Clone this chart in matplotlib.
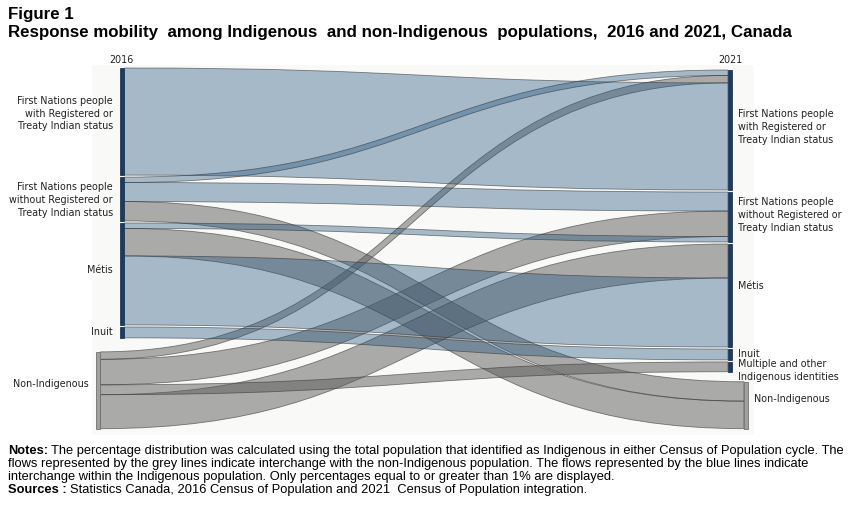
import numpy as np
import matplotlib
matplotlib.use("Agg")
import matplotlib.pyplot as plt
from matplotlib.path import Path
from matplotlib.patches import PathPatch, Rectangle

# DONNÉES (pourcentages)

noeuds_2016 = ["First Nations people\nwith Registered or\nTreaty Indian status",
               "First Nations people\nwithout Registered or\nTreaty Indian status",
               "Métis", "Inuit", "Non-Indigenous"]
noeuds_2021 = ["First Nations people\nwith Registered or\nTreaty Indian status",
               "First Nations people\nwithout Registered or\nTreaty Indian status",
               "Métis", "Inuit", "Multiple and other\nIndigenous identities",
               "Non-Indigenous"]

# source, cible, valeur (%)
flux_source = [0, 1, 4, 1, 4, 2, 1, 2, 2, 4, 3, 4]
flux_cible  = [0, 0, 0, 1, 1, 1, 5, 5, 2, 2, 3, 4]
flux_valeur = [31.5, 1.6, 2.2, 5.6, 7.5, 1.6, 5.7, 8.1, 20.3, 10.0, 3.2, 2.9]

# ordre d'empilement à la source et à la cible
rang_source = [0, 0, 0, 1, 1, 0, 2, 1, 2, 3, 0, 2]
rang_cible  = [2, 0, 1, 0, 1, 2, 0, 1, 1, 0, 0, 0]

# MISE EN PAGE (pixels)

LARGEUR, HAUTEUR = 854, 505
ECHELLE = 3.4           # pixels par %
ESPACE = 2.0
X_GAUCHE, X_GAUCHE_NON = 120, 96
X_DROITE, X_DROITE_NON = 728, 744
L_NOEUD = 4.5
HAUT_GAUCHE, HAUT_DROITE = 68, 70
SAUT_GAUCHE, SAUT_DROITE = 14, 10

# décalage vertical des étiquettes par rapport au centre du noeud
DECALAGE_G = [-8, 1, -4, 0, -6]
DECALAGE_D = [-3, -2, -10, 0, -8, -6]

BLEU = (0.16, 0.35, 0.51)
GRIS = (0.36, 0.36, 0.36)


def positions(nb, cles, haut, saut):
    tailles = np.zeros(nb)
    for k, v in zip(cles, flux_valeur):
        tailles[k] += v * ECHELLE
    y = haut
    tops = []
    for i in range(nb):
        if i == nb - 1:
            y += saut - ESPACE
        tops.append(y)
        y += tailles[i] + ESPACE
    return np.array(tops), tailles


tops_g, tailles_g = positions(len(noeuds_2016), flux_source, HAUT_GAUCHE, SAUT_GAUCHE)
tops_d, tailles_d = positions(len(noeuds_2021), flux_cible, HAUT_DROITE, SAUT_DROITE)


def empiler(cles, rangs, tops):
    debut = np.zeros(len(flux_valeur))
    for n in set(cles):
        idx = [i for i in range(len(cles)) if cles[i] == n]
        idx.sort(key=lambda i: rangs[i])
        y = tops[n]
        for i in idx:
            debut[i] = y
            y += flux_valeur[i] * ECHELLE
    return debut


y0 = empiler(flux_source, rang_source, tops_g)
y1 = empiler(flux_cible, rang_cible, tops_d)

fig = plt.figure(figsize=(8.54, 5.05), dpi=100)
ax = fig.add_axes([0, 0, 1, 1])
ax.set_xlim(0, LARGEUR)
ax.set_ylim(HAUTEUR, 0)
ax.axis("off")
fig.canvas.draw()
rend = fig.canvas.get_renderer()

# FOND LÉGER DE LA ZONE DU GRAPHIQUE
ax.add_patch(Rectangle((92, 65), 662, 370, facecolor="#f9f9f8", edgecolor="none", zorder=0))

# LIENS (gris d'abord, bleus ensuite)
ordre = sorted(range(len(flux_valeur)),
               key=lambda i: 0 if (flux_source[i] == 4 or flux_cible[i] == 5) else 1)
for i in ordre:
    s, c = flux_source[i], flux_cible[i]
    non = (s == 4 or c == 5)
    xa = (X_GAUCHE_NON if s == 4 else X_GAUCHE) + L_NOEUD
    xb = X_DROITE_NON if c == 5 else X_DROITE
    h = flux_valeur[i] * ECHELLE
    xm = (xa + xb) / 2
    sommets = [(xa, y0[i]), (xm, y0[i]), (xm, y1[i]), (xb, y1[i]),
               (xb, y1[i] + h), (xm, y1[i] + h), (xm, y0[i] + h), (xa, y0[i] + h),
               (xa, y0[i])]
    codes = [Path.MOVETO, Path.CURVE4, Path.CURVE4, Path.CURVE4,
             Path.LINETO, Path.CURVE4, Path.CURVE4, Path.CURVE4, Path.CLOSEPOLY]
    couleur = GRIS if non else BLEU
    ax.add_patch(PathPatch(Path(sommets, codes), facecolor=couleur + (0.5 if non else 0.4,),
                           edgecolor=(0.2, 0.2, 0.2, 0.6), linewidth=0.6, zorder=2))

# NOEUDS
police = dict(family=["DejaVu Sans"], fontsize=6.9, color="#222222")
for i, nom in enumerate(noeuds_2016):
    non = nom == "Non-Indigenous"
    x = X_GAUCHE_NON if non else X_GAUCHE
    ax.add_patch(Rectangle((x, tops_g[i]), L_NOEUD, tailles_g[i],
                           facecolor="#a0a0a0" if non else "#1c3b5e",
                           edgecolor="#707070" if non else "#1c3b5e", linewidth=0.6, zorder=3))
    ax.text(x - 7, tops_g[i] + tailles_g[i] / 2 + DECALAGE_G[i], nom, ha="right", va="center",
            linespacing=1.35, **police)

for i, nom in enumerate(noeuds_2021):
    non = nom == "Non-Indigenous"
    x = X_DROITE_NON if non else X_DROITE
    ax.add_patch(Rectangle((x, tops_d[i]), L_NOEUD, tailles_d[i],
                           facecolor="#a0a0a0" if non else "#1c3b5e",
                           edgecolor="#707070" if non else "#1c3b5e", linewidth=0.6, zorder=3))
    va = "top" if "Multiple" in nom else "center"
    ax.text(x + L_NOEUD + 6, tops_d[i] + tailles_d[i] / 2 + DECALAGE_D[i], nom,
            ha="left", va=va, linespacing=1.35, **police)

ax.text(X_GAUCHE + 1, 60, "2016", ha="center", va="center", **police)
ax.text(X_DROITE + 2, 60, "2021", ha="center", va="center", **police)


def taille_pour(texte, largeur, **kw):
    t = ax.text(0, 0, texte, fontsize=10, **kw)
    w = t.get_window_extent(rend).width
    t.remove()
    return 10 * largeur / w


# TITRE
titre = dict(family=["Liberation Sans", "DejaVu Sans"], fontweight="bold", color="black")
sous_titre = "Response mobility  among Indigenous  and non-Indigenous  populations,  2016 and 2021, Canada"
ft = taille_pour(sous_titre, 787, **titre)
ax.text(8, 14, "Figure 1", ha="left", va="center", fontsize=ft, **titre)
ax.text(8, 33, sous_titre, ha="left", va="center", fontsize=ft, **titre)

# NOTES
lignes = ["The percentage distribution was calculated using the total population that identified as Indigenous in either Census of Population cycle. The",
          "flows represented by the grey lines indicate interchange with the non-Indigenous population. The flows represented by the blue lines indicate",
          "interchange within the Indigenous population. Only percentages equal to or greater than 1% are displayed."]
base = dict(family=["Liberation Sans", "DejaVu Sans"], color="black")
fn = taille_pour("Notes: " + lignes[0], 834, **base)
note = dict(base, fontsize=fn)
t = ax.text(8, 451, "Notes:", ha="left", va="center", fontweight="bold", **note)
w = t.get_window_extent(rend).width
ax.text(8 + w + 3, 451, lignes[0], ha="left", va="center", **note)
ax.text(8, 464, lignes[1], ha="left", va="center", **note)
ax.text(8, 477, lignes[2], ha="left", va="center", **note)
t = ax.text(8, 490, "Sources :", ha="left", va="center", fontweight="bold", **note)
w = t.get_window_extent(rend).width
ax.text(8 + w + 3, 490, "Statistics Canada, 2016 Census of Population and 2021  Census of Population integration.",
        ha="left", va="center", **note)

fig.savefig("out.png", dpi=100)
